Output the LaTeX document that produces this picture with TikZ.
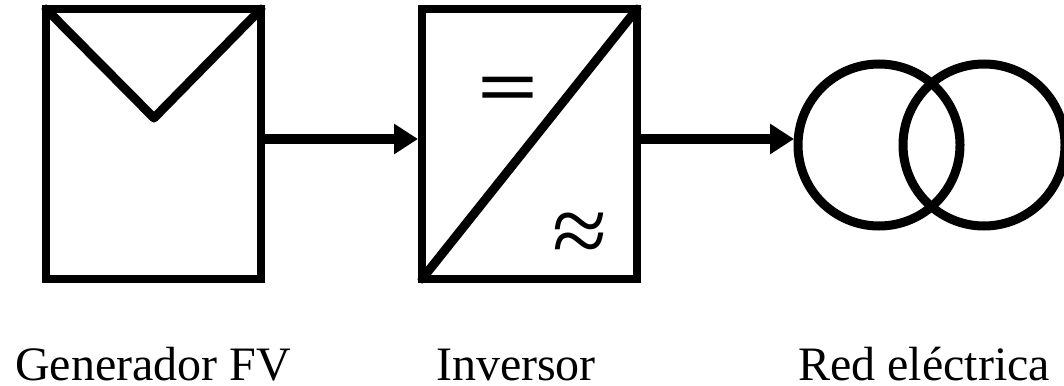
\documentclass[tikz,border=0pt]{standalone}
\usepackage{fontspec}
\setmainfont{Liberation Serif}
\usetikzlibrary{positioning,arrows.meta}

\begin{document}
\begin{tikzpicture}[x=1pt,y=-1pt,
		block/.style={draw,line width=8pt,outer sep=0pt,minimum width=215pt,minimum height=270pt,inner sep=0pt,anchor=north west},
		circ/.style={draw,line width=9pt,outer sep=0pt,circle,minimum size=162pt,inner sep=0pt},
		conn/.style={line width=10pt,shorten >=4pt,-{Triangle[length=24pt,width=29pt]}},
		diag/.style={line width=9pt,line join=round,line cap=round},
		label/.style={font=\fontsize{48pt}{50pt}\selectfont,inner sep=0pt,anchor=base}]
	
	\useasboundingbox (0,0) rectangle (1064,385);
	
	\node(gen)[block] at (46,9){};
	\node(inv)[block] at (422,9){};
	\node(c1)[circ] at (879,145){};
	\node(c2)[circ] at (984,145){};
	
	\coordinate(vee) at (154,118);
	\draw[diag](gen.north west)--(vee)--(gen.north east);
	\draw[diag](inv.south west)--(inv.north east);
	
	\node(dc)[font=\fontsize{108pt}{108pt}\selectfont\bfseries,inner sep=0pt] at (508,95){\scalebox{1}[0.72]{=}};
	\node(ac)[font=\fontsize{100pt}{100pt}\selectfont,inner sep=0pt] at (580,239){≈};
	
	\draw[conn](gen.east|-0,139)--(inv.west|-0,139);
	\draw[conn](inv.east|-0,139)--(c1.west|-0,139);
	
	\node(lgen)[label] at (153,380){Generador FV};
	\node(linv)[label] at (516,380){Inversor};
	\node(lred)[label] at (924,380){Red eléctrica};
	
\end{tikzpicture}
\end{document}
